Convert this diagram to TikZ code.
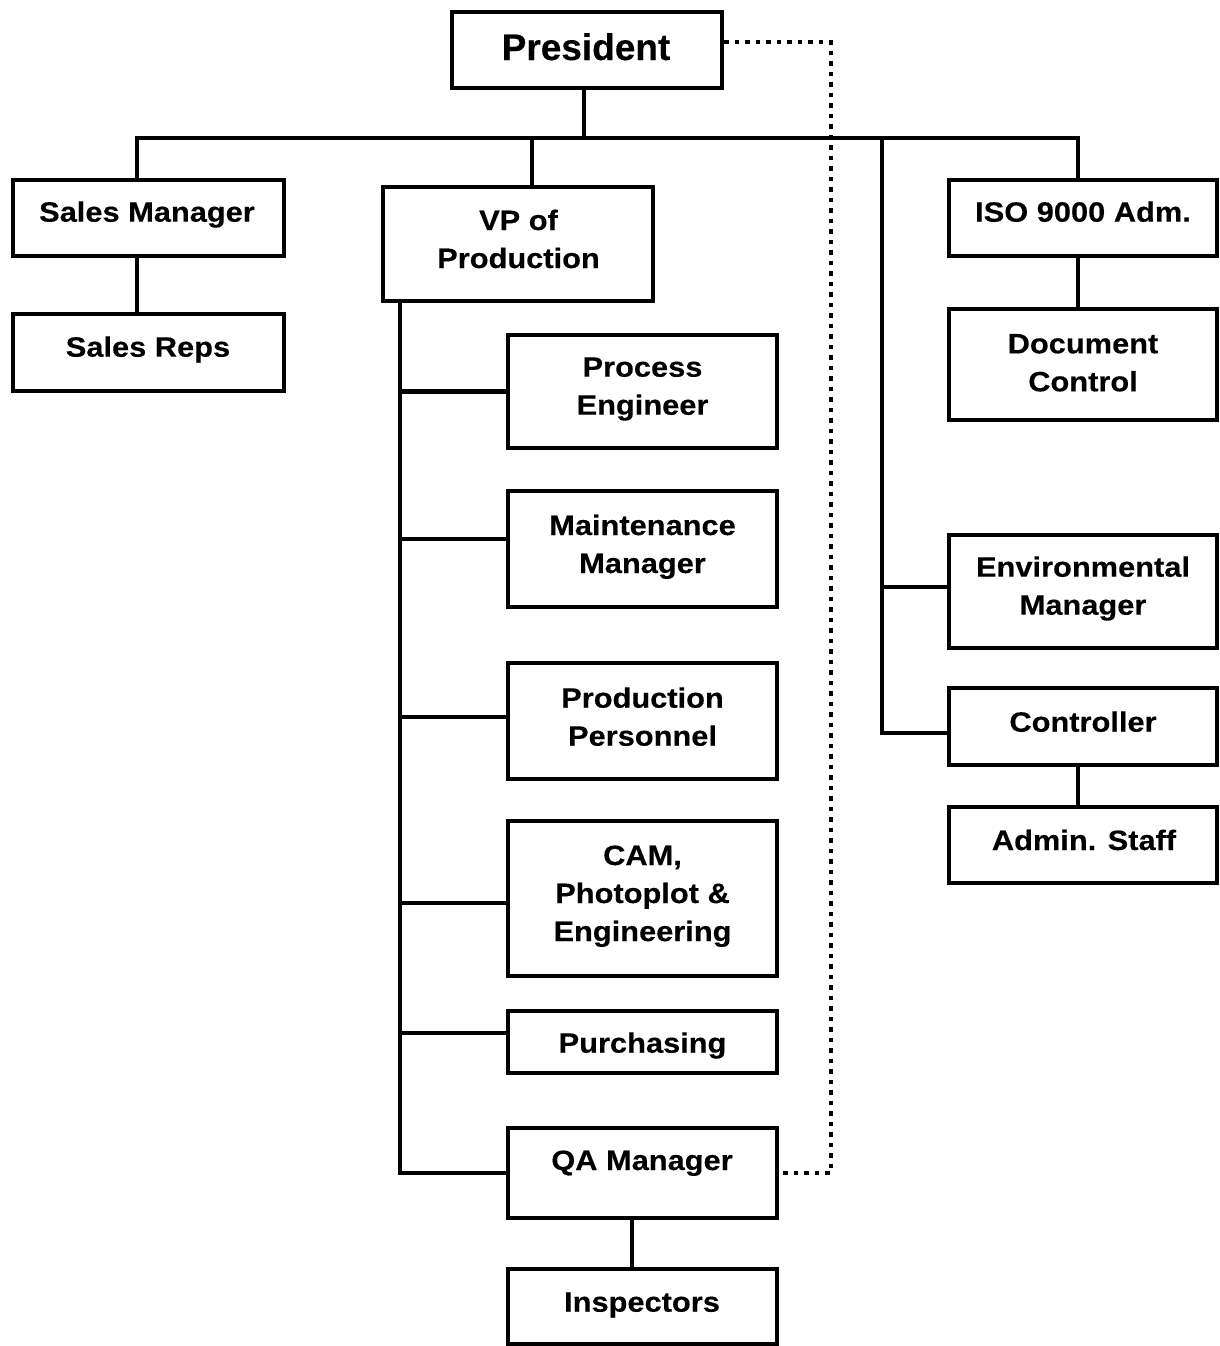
\documentclass[tikz,border=0pt]{standalone}
\usepackage{fontspec}
\newfontfamily\bodyfont{Liberation Sans}[FakeStretch=1.1,FakeBold=0.3]
\newfontfamily\presfont{Liberation Sans}[FakeBold=0.3]
\newcommand\mlines[1]{\begin{tabular}[t]{@{}c@{}}#1\end{tabular}}
\newcommand\orgbox[5]{\node[orgbox, minimum width=#4, minimum height=#5] (#1) at (#2,#3) {};}
\begin{document}
\begin{tikzpicture}[x=1pt,y=-1pt, line join=miter,
  orgbox/.style={draw, line width=4.5pt, inner sep=0pt},
  txt/.style={font=\bodyfont\bfseries\fontsize{28}{38}\selectfont, anchor=base, inner sep=0pt},
  conn/.style={line width=4.5pt},
  dotline/.style={line width=4.5pt, dash pattern=on 4.5pt off 6pt}]
\useasboundingbox (0,0) rectangle (1220,1346);

% boxes
\orgbox{pres}{587}{50}{270pt}{76pt}
\orgbox{sm}{148.5}{218}{271pt}{76pt}
\orgbox{sr}{148.5}{352.5}{271pt}{77pt}
\orgbox{vp}{518}{244}{270pt}{114pt}
\orgbox{pe}{642.5}{391.5}{269pt}{113pt}
\orgbox{mm}{642.5}{549}{269pt}{116pt}
\orgbox{pp}{642.5}{721}{269pt}{116pt}
\orgbox{cam}{642.5}{898.5}{269pt}{155pt}
\orgbox{pur}{642.5}{1042}{269pt}{62pt}
\orgbox{qa}{642.5}{1173}{269pt}{90pt}
\orgbox{ins}{642.5}{1306.5}{269pt}{75pt}
\orgbox{iso}{1083}{218}{268pt}{76pt}
\orgbox{dc}{1083}{364.5}{268pt}{111pt}
\orgbox{env}{1083}{591.5}{268pt}{113pt}
\orgbox{ctl}{1083}{726.5}{268pt}{77pt}
\orgbox{adm}{1083}{845}{268pt}{76pt}

% texts
\node[txt, font=\presfont\bfseries\fontsize{37}{44}\selectfont] (pres-t) at (586,60) {President};
\node[txt] (sm-t) at (147,221.7) {Sales Manager};
\node[txt] (sr-t) at (148,356.7) {Sales Reps};
\node[txt] (vp-t) at (518.5,230) {\mlines{VP of\\Production}};
\node[txt] (pe-t) at (642.5,376.7) {\mlines{Process\\Engineer}};
\node[txt] (mm-t) at (642.5,535) {\mlines{Maintenance\\Manager}};
\node[txt] (pp-t) at (642.5,707.7) {\mlines{Production\\Personnel}};
\node[txt] (cam-t) at (642.5,865) {\mlines{CAM,\\Photoplot \&\\Engineering}};
\node[txt] (pur-t) at (642.5,1052.7) {Purchasing};
\node[txt] (qa-t) at (642,1170) {QA Manager};
\node[txt] (ins-t) at (642,1311.7) {Inspectors};
\node[txt] (iso-t) at (1083,221.7) {ISO 9000 Adm.};
\node[txt] (dc-t) at (1083,353.3) {\mlines{Document\\Control}};
\node[txt] (env-t) at (1083,576.7) {\mlines{Environmental\\Manager}};
\node[txt] (ctl-t) at (1083,731.7) {Controller};
\node[txt] (adm-t) at (1084,850) {Admin. Staff};

% helper coordinates
\coordinate (busL) at (137,138);
\coordinate (busR) at (1078,138);
\coordinate (pc) at (584,138);
\coordinate (vc) at (532,138);
\coordinate (rc) at (882,138);
\coordinate (lc) at (400,0);
\coordinate (qc) at (632,0);
\coordinate (dx) at (831,0);
\path ([yshift=10pt]mm.west) coordinate (mmb);
\path ([yshift=4pt]pp.west) coordinate (ppb);
\path ([yshift=-4.5pt]cam.west) coordinate (camb);
\path ([yshift=9pt]pur.west) coordinate (purb);
\path ([yshift=4.5pt]env.west) coordinate (envb);
\path ([yshift=-6.5pt]ctl.west) coordinate (ctlb);

% connectors
\draw[conn] (busL |- sm.north) -- (busL) -- (busR) -- (busR |- iso.north);
\draw[conn] (pc |- pres.south) -- (pc);
\draw[conn] (vc) -- (vc |- vp.north);
\draw[conn] (busL |- sm.south) -- (busL |- sr.north);
\draw[conn] (lc |- vp.south) |- (qa.west);
\draw[conn] (lc |- pe.west) -- (pe.west);
\draw[conn] (lc |- mmb) -- (mmb);
\draw[conn] (lc |- ppb) -- (ppb);
\draw[conn] (lc |- camb) -- (camb);
\draw[conn] (lc |- purb) -- (purb);
\draw[conn] (qc |- qa.south) -- (qc |- ins.north);
\draw[conn] (rc) |- (ctlb);
\draw[conn] (rc |- envb) -- (envb);
\draw[conn] (busR |- iso.south) -- (busR |- dc.north);
\draw[conn] (busR |- ctl.south) -- (busR |- adm.north);
\draw[dotline] ([yshift=8pt]pres.east) -| (dx |- qa.east) -- (qa.east);
\end{tikzpicture}
\end{document}
